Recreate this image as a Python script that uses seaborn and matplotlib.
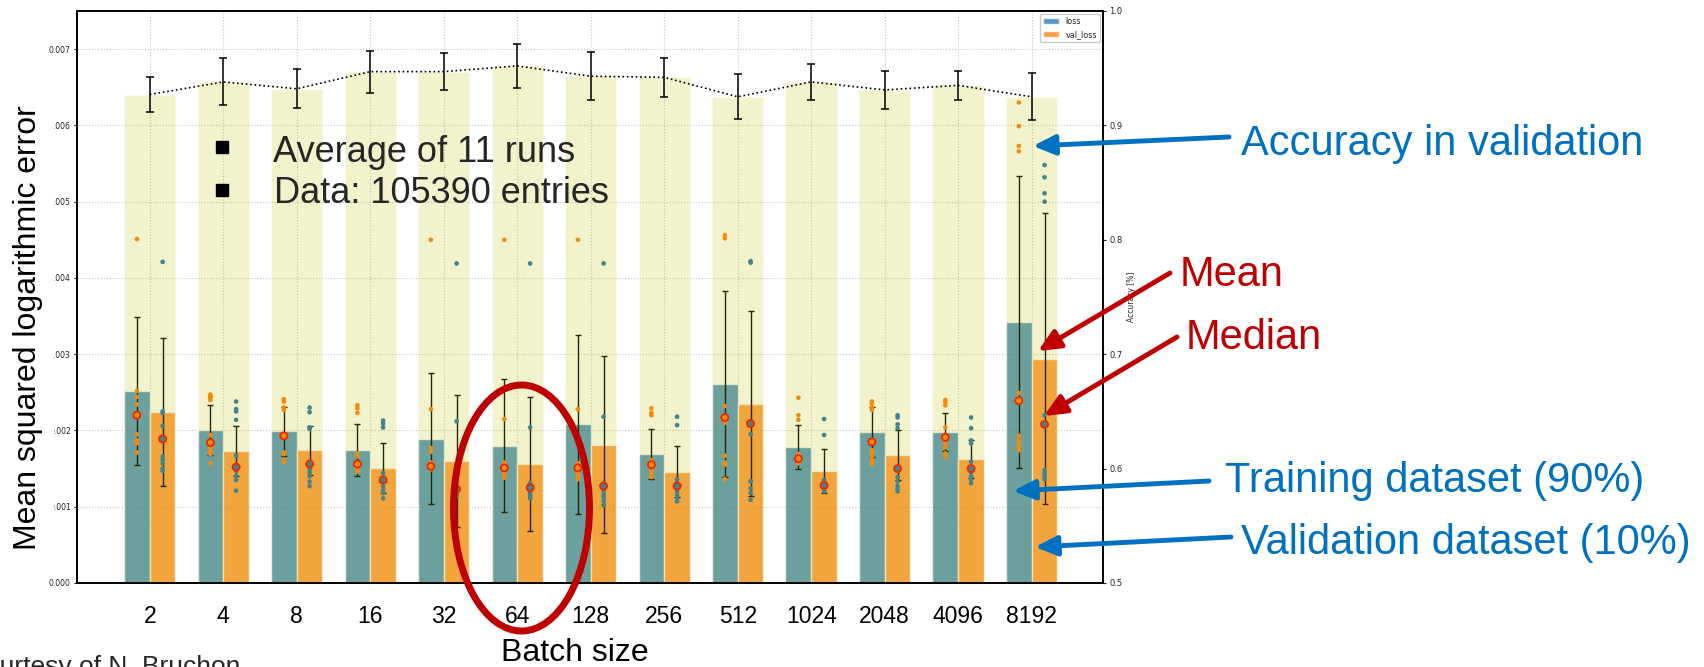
import numpy as np
import pandas as pd
import matplotlib
matplotlib.use("Agg")
import matplotlib.pyplot as plt
from matplotlib.patches import Patch, Ellipse, FancyArrowPatch
from matplotlib.lines import Line2D
import seaborn as sns

# ---------------- data ----------------
batch_sizes = ['2', '4', '8', '16', '32', '64', '128', '256', '512', '1024', '2048', '4096', '8192']

acc_mean = [0.927, 0.938, 0.932, 0.947, 0.947, 0.952, 0.943, 0.942, 0.925, 0.938, 0.931, 0.935, 0.925]
acc_std = [0.0155, 0.0206, 0.0169, 0.0184, 0.0164, 0.0193, 0.0208, 0.0172, 0.0196, 0.0155, 0.0169, 0.0127, 0.0204]

loss_mean = [0.00252, 0.00201, 0.00199, 0.00174, 0.00189, 0.00180, 0.00208, 0.00169, 0.00261, 0.00178, 0.00198, 0.00198, 0.00342]
val_loss_mean = [0.00224, 0.00173, 0.00174, 0.00151, 0.00160, 0.00156, 0.00181, 0.00146, 0.00235, 0.00147, 0.00168, 0.00163, 0.00294]
loss_std = [0.00097, 0.00033, 0.00032, 0.00034, 0.00086, 0.00087, 0.00117, 0.00033, 0.00122, 0.00029, 0.00033, 0.00025, 0.00191]
val_loss_std = [0.00097, 0.00033, 0.00032, 0.00033, 0.00086, 0.00088, 0.00116, 0.00033, 0.00121, 0.00029, 0.00033, 0.00025, 0.00191]

loss_median = [0.00220, 0.00184, 0.00193, 0.00156, 0.00153, 0.00151, 0.00151, 0.00155, 0.00217, 0.00163, 0.00185, 0.00191, 0.00239]
val_loss_median = [0.00189, 0.00152, 0.00156, 0.00135, 0.00123, 0.00125, 0.00127, 0.00127, 0.00209, 0.00128, 0.00150, 0.00150, 0.00208]

# individual runs (11 per batch size)
loss_runs = [
    [0.00451, 0.00252, 0.00244, 0.00234, 0.00221, 0.00220, 0.00195, 0.00187, 0.00184, 0.00171, 0.00183],
    [0.00247, 0.00245, 0.00243, 0.00240, 0.00194, 0.00184, 0.00184, 0.00178, 0.00173, 0.00169, 0.00157],
    [0.00241, 0.00238, 0.00230, 0.00227, 0.00193, 0.00193, 0.00171, 0.00169, 0.00161, 0.00159, 0.00160],
    [0.00233, 0.00229, 0.00223, 0.00170, 0.00166, 0.00156, 0.00156, 0.00155, 0.00149, 0.00146, 0.00151],
    [0.00450, 0.00228, 0.00177, 0.00172, 0.00158, 0.00155, 0.00153, 0.00152, 0.00150, 0.00149, 0.00151],
    [0.00450, 0.00215, 0.00158, 0.00155, 0.00152, 0.00151, 0.00150, 0.00148, 0.00145, 0.00142, 0.00138],
    [0.00450, 0.00228, 0.00157, 0.00155, 0.00153, 0.00151, 0.00150, 0.00147, 0.00143, 0.00140, 0.00136],
    [0.00229, 0.00223, 0.00220, 0.00161, 0.00158, 0.00155, 0.00155, 0.00151, 0.00147, 0.00143, 0.00139],
    [0.00456, 0.00452, 0.00232, 0.00218, 0.00217, 0.00216, 0.00210, 0.00167, 0.00158, 0.00155, 0.00136],
    [0.00243, 0.00220, 0.00214, 0.00169, 0.00167, 0.00165, 0.00163, 0.00162, 0.00160, 0.00159, 0.00157],
    [0.00238, 0.00235, 0.00230, 0.00227, 0.00187, 0.00185, 0.00174, 0.00170, 0.00165, 0.00160, 0.00156],
    [0.00240, 0.00237, 0.00233, 0.00204, 0.00194, 0.00191, 0.00188, 0.00183, 0.00178, 0.00170, 0.00165],
    [0.00630, 0.00599, 0.00573, 0.00566, 0.00249, 0.00239, 0.00193, 0.00187, 0.00182, 0.00178, 0.00174],
]
val_loss_runs = [
    [0.00421, 0.00225, 0.00223, 0.00206, 0.00189, 0.00189, 0.00166, 0.00162, 0.00157, 0.00147, 0.00150],
    [0.00238, 0.00228, 0.00225, 0.00214, 0.00167, 0.00152, 0.00152, 0.00147, 0.00140, 0.00135, 0.00121],
    [0.00230, 0.00224, 0.00204, 0.00202, 0.00156, 0.00156, 0.00149, 0.00140, 0.00133, 0.00127, 0.00145],
    [0.00213, 0.00209, 0.00204, 0.00144, 0.00139, 0.00135, 0.00135, 0.00127, 0.00122, 0.00118, 0.00111],
    [0.00419, 0.00212, 0.00125, 0.00124, 0.00123, 0.00123, 0.00122, 0.00120, 0.00118, 0.00116, 0.00114],
    [0.00419, 0.00204, 0.00131, 0.00128, 0.00126, 0.00125, 0.00123, 0.00120, 0.00117, 0.00114, 0.00111],
    [0.00419, 0.00218, 0.00131, 0.00128, 0.00127, 0.00127, 0.00122, 0.00117, 0.00113, 0.00108, 0.00102],
    [0.00218, 0.00207, 0.00136, 0.00132, 0.00127, 0.00127, 0.00124, 0.00120, 0.00115, 0.00111, 0.00107],
    [0.00422, 0.00420, 0.00212, 0.00209, 0.00208, 0.00195, 0.00134, 0.00133, 0.00124, 0.00118, 0.00109],
    [0.00215, 0.00194, 0.00135, 0.00133, 0.00130, 0.00128, 0.00127, 0.00125, 0.00123, 0.00121, 0.00120],
    [0.00220, 0.00217, 0.00208, 0.00203, 0.00151, 0.00150, 0.00139, 0.00133, 0.00127, 0.00123, 0.00120],
    [0.00217, 0.00203, 0.00187, 0.00183, 0.00159, 0.00152, 0.00150, 0.00145, 0.00140, 0.00136, 0.00131],
    [0.00548, 0.00532, 0.00511, 0.00500, 0.00220, 0.00208, 0.00148, 0.00145, 0.00142, 0.00139, 0.00136],
]

series_names = ['loss', 'val_loss']
y_ticks_loss = [0.000, 0.001, 0.002, 0.003, 0.004, 0.005, 0.006, 0.007]
y_ticks_acc = [0.5, 0.6, 0.7, 0.8, 0.9, 1.0]

# ---------------- style ----------------
sns.set_theme(style="white")
plt.rcParams['font.family'] = ['DejaVu Sans']
OVER = 'Liberation Sans'
BLUE_T = '#0070C0'
RED_T = '#C00000'
C_BLUE = '#1f77b4'
C_ORANGE = '#ff7f0e'

W, H = 1704, 667
fig = plt.figure(figsize=(W / 100, H / 100), dpi=100)
ax = fig.add_axes([77 / W, (H - 583) / H, (1103 - 77) / W, (583 - 11) / H])

n = len(batch_sizes)
idx = np.arange(n)
off = 0.175

bars_df = pd.DataFrame({
    'batch': batch_sizes * 2,
    'value': loss_mean + val_loss_mean,
    'series': ['loss'] * n + ['val_loss'] * n,
})
sns.barplot(data=bars_df, x='batch', y='value', hue='series', order=batch_sizes,
            hue_order=series_names, palette={'loss': C_BLUE, 'val_loss': C_ORANGE},
            alpha=0.75, width=0.7, saturation=1, errorbar=None, legend=False, ax=ax)

ax.errorbar(idx - off, loss_mean, yerr=loss_std, fmt='none', ecolor='black',
            elinewidth=1.0, capsize=2.5, capthick=1.0, zorder=4)
ax.errorbar(idx + off, val_loss_mean, yerr=val_loss_std, fmt='none', ecolor='black',
            elinewidth=1.0, capsize=2.5, capthick=1.0, zorder=4)

rows = []
for i in range(n):
    for v in loss_runs[i]:
        rows.append((i - off, v, 'loss'))
    for v in val_loss_runs[i]:
        rows.append((i + off, v, 'val_loss'))
runs_df = pd.DataFrame(rows, columns=['xpos', 'value', 'series'])
sns.scatterplot(data=runs_df, x='xpos', y='value', hue='series', hue_order=series_names,
                palette={'loss': C_ORANGE, 'val_loss': C_BLUE}, s=11, linewidth=0,
                legend=False, zorder=5, ax=ax)

med_df = pd.DataFrame({
    'xpos': list(idx - off) + list(idx + off),
    'value': loss_median + val_loss_median,
    'series': ['loss'] * n + ['val_loss'] * n,
})
sns.scatterplot(data=med_df, x='xpos', y='value', hue='series', hue_order=series_names,
                palette={'loss': C_ORANGE, 'val_loss': C_BLUE}, s=26, edgecolor='red',
                linewidth=1.3, legend=False, zorder=6, ax=ax)

ax.set_ylim(0, 0.0075)
ax.set_yticks(y_ticks_loss)
ax.set_yticklabels([f"{t:.3f}" for t in y_ticks_loss], fontsize=5.5)
ax.set_xticks(idx)
ax.set_xticklabels(batch_sizes, fontsize=16.5, family=OVER, color='black')
ax.tick_params(axis='x', length=3, pad=13, width=0.8)
ax.tick_params(axis='y', length=2.5, pad=2, width=0.8, labelcolor='#222222')
ax.grid(True, ls=':', lw=0.8, color='#c4c4c4')
ax.set_axisbelow(True)
for s in ax.spines.values():
    s.set_color('black')
    s.set_linewidth(1.2)

ax.set_xlabel('Batch size', fontsize=23, family=OVER, color='black', va='baseline')
ax.xaxis.set_label_coords((575 - 77) / 1026, (583 - 661) / 572)
ax.set_ylabel('Mean squared logarithmic error', fontsize=23, family=OVER, color='black',
              va='baseline',
              bbox=dict(boxstyle='square,pad=0.33', fc='white', ec='none'))
ax.yaxis.set_label_coords((36 - 77) / 1026, (583 - 327.5) / 572)

leg_handles = [Patch(facecolor=C_BLUE, alpha=0.75, label='loss'),
               Patch(facecolor=C_ORANGE, alpha=0.75, label='val_loss')]
ax.legend(handles=leg_handles, loc='upper right', fontsize=5.8, frameon=True,
          edgecolor='#cccccc', framealpha=1, borderaxespad=0.35, fancybox=True)

# ---------------- accuracy twin axis ----------------
ax2 = ax.twinx()
acc_df = pd.DataFrame({'batch': batch_sizes, 'acc': acc_mean})
sns.barplot(data=acc_df, x='batch', y='acc', order=batch_sizes, color='#bfbf00',
            alpha=0.2, width=0.7, saturation=1, errorbar=None, ax=ax2)
ax2.errorbar(idx, acc_mean, yerr=acc_std, fmt='none', ecolor='black', elinewidth=1.1,
             capsize=3, capthick=1.1, zorder=4)
ax2.plot(idx, acc_mean, ls=':', color='black', lw=1.2, zorder=3)
ax2.set_ylim(0.5, 1.0)
ax2.set_yticks(y_ticks_acc)
ax2.set_yticklabels([f"{t:.1f}" for t in y_ticks_acc], fontsize=6)
ax2.tick_params(axis='y', length=2.5, pad=2, width=0.8, labelcolor='#222222')
ax2.set_ylabel('Accuracy [%]', fontsize=5.5)
ax2.yaxis.set_label_coords(1.023, 0.5)
ax2.grid(False)
for s in ax2.spines.values():
    s.set_color('black')
    s.set_linewidth(1.2)
ax.set_xlim(-0.99, 12.97)
ax2.set_xlim(-0.99, 12.97)

# ---------------- slide annotations ----------------
def fx(px):
    return px / W

def fy(py):
    return (H - py) / H

fig.text(fx(273), fy(162), 'Average of 11 runs', fontsize=26, family=OVER, va='baseline')
fig.text(fx(274), fy(203), 'Data: 105390 entries', fontsize=26, family=OVER, va='baseline')
for yy in (147, 190):
    fig.add_artist(Line2D([fx(221.5)], [fy(yy)], marker='s', ms=8, color='black',
                          transform=fig.transFigure))

texts = [
    ('Accuracy in validation', 1241, 155, BLUE_T),
    ('Mean', 1180, 286, RED_T),
    ('Median', 1186, 349, RED_T),
    ('Training dataset (90%)', 1225, 492, BLUE_T),
    ('Validation dataset (10%)', 1241, 554, BLUE_T),
]
for s, x, y, c in texts:
    fig.text(fx(x), fy(y), s, fontsize=30, family=OVER, color=c, va='baseline', ha='left')

arrows = [
    ((1229, 137), (1033, 146), BLUE_T),
    ((1170, 273), (1038, 351), RED_T),
    ((1177, 337), (1044, 416), RED_T),
    ((1209, 481), (1013, 491), BLUE_T),
    ((1231, 537), (1035, 547), BLUE_T),
]
for (x0, y0), (x1, y1), c in arrows:
    fig.add_artist(FancyArrowPatch((fx(x0), fy(y0)), (fx(x1), fy(y1)),
                                   transform=fig.transFigure,
                                   arrowstyle='-|>,head_length=1.1,head_width=0.5',
                                   mutation_scale=12, lw=3.5, color=c,
                                   shrinkA=0, shrinkB=0, zorder=5))

fig.add_artist(Ellipse((fx(521.5), fy(508)), width=136 / W, height=246 / H,
                       transform=fig.transFigure, fill=False, edgecolor=RED_T, lw=5, zorder=5))

fig.text(fx(-34), fy(674), 'Courtesy of N. Bruchon', fontsize=19, family=OVER, va='baseline')

fig.savefig('out.png', dpi=100)
